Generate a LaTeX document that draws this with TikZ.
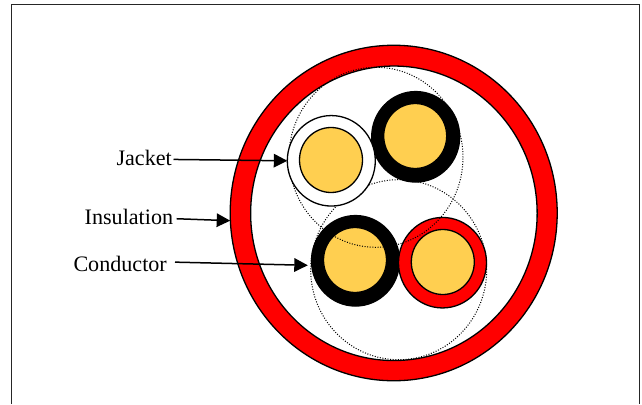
\documentclass[tikz,border=0pt]{standalone}
\usepackage{fontspec}
\setmainfont{Liberation Serif}
\usepackage{tikz}
\usetikzlibrary{arrows.meta, shapes.geometric}
\definecolor{corecol}{HTML}{FFCF50}
\tikzset{
    disc/.style 2 args={ellipse, draw=black, line width=1.3pt, inner sep=0pt, outer sep=0pt,
        minimum width=#1pt, minimum height=#2pt},
    jacketdisc/.style={disc={88}{90.5}, fill=#1},
    coredisc/.style={disc={63}{65}, fill=corecol},
    guide/.style={disc={#1}{180}, line width=1pt, dash pattern=on 1pt off 1.6pt},
    caption/.style={anchor=base east, inner sep=0pt, font=\fontsize{22.1}{24}\selectfont},
    leader/.style={line width=1.5pt, -{Triangle[length=13.5pt, width=13.5pt]}}
}

\begin{document}
\begin{tikzpicture}[x=1pt, y=-1pt]
    \useasboundingbox (0,0) rectangle (642,404);
    % Frame
    \draw[line width=1.3pt, black!85] (11.8,404) -- (11.8,4.6) -- (639.3,4.6) -- (639.3,404);
    % Outer insulation
    \node[disc={327}{335.5}, fill=red] (outerring) at (393.7,213) {};
    \node[disc={286.5}{294.5}, fill=white] (innerring) at (393.9,213.3) {};
    % Lower guide circle
    \node[guide=176] (guidelow) at (398.7,269.7) {};
    % Bottom left wire
    \node[jacketdisc=black] (blacklow) at (355.5,260.8) {};
    \node[coredisc] (corelow) at (355,260) {};
    % Bottom right wire
    \node[jacketdisc=red] (redlow) at (442.5,262.7) {};
    \node[coredisc] (coreright) at (442.8,262) {};
    % Upper guide circle
    \node[guide=174] (guideup) at (376,157.3) {};
    % Top right wire
    \node[jacketdisc=black] (blacktop) at (415.7,136.8) {};
    \node[coredisc] (coretop) at (415.2,136) {};
    % Top left wire
    \node[jacketdisc=white] (whitetop) at (331.3,160.8) {};
    \node[coredisc] (coreleft) at (331,160) {};
    % Labels
    \node[caption] (jacketlbl) at (172,165) {Jacket};
    \node[caption] (insulationlbl) at (173.3,224.3) {Insulation};
    \node[caption] (conductorlbl) at (167,271.7) {Conductor};
    % Arrows
    \draw[leader] ([shift={(1.5,2)}]jacketlbl.east) -- (whitetop.west);
    \draw[leader] ([shift={(3.4,2)}]insulationlbl.east) -- ([shift={(0,7.7)}]outerring.west);
    \draw[leader] ([shift={(8,-2)}]conductorlbl.east) -- ([shift={(-3.7,4.5)}]blacklow.west);
\end{tikzpicture}
\end{document}
